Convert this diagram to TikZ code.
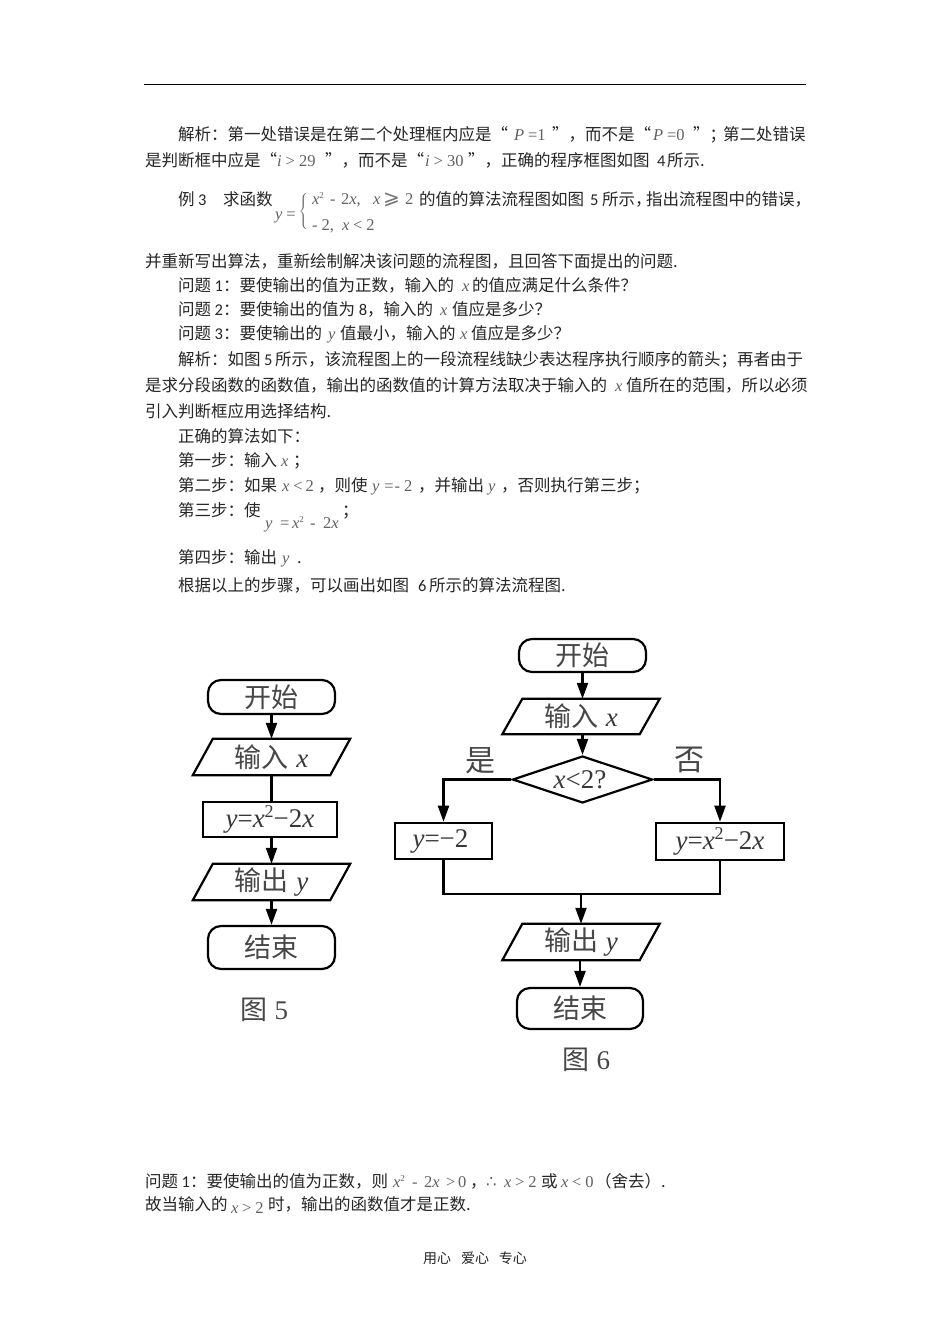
\documentclass[tikz,border=0pt]{standalone}
\usepackage{fontspec}
\usetikzlibrary{arrows.meta,calc,shapes.geometric}
\setmainfont{Noto Sans CJK SC}
\newfontfamily\mf{Liberation Serif}
\newfontfamily\cb{Carlito}
\newfontfamily\djv{DejaVu Sans}
\newcommand{\mi}[1]{{\mf\itshape\color{black!62}#1}}
\newcommand{\mr}[1]{{\mf\color{black!62}#1}}
\newcommand{\mup}[1]{\raisebox{6pt}{\fontsize{9}{9}\selectfont\mf\color{black!62}#1}}
\newcommand{\bodyf}{\fontsize{16.5}{18}\selectfont}
\newcounter{tn}
\newcommand{\tl}[3]{\stepcounter{tn}\node[txt] (t\arabic{tn}) at (#1,#2) {\bodyf #3};}
\newcommand{\term}[6]{\node[termbox,minimum width=#4 pt,minimum height=#5 pt] (#1) at (#2,#3) {\figf #6};}
\newcommand{\figf}{\fontsize{27}{29}\selectfont\color{black!72}}
\newcommand{\paral}[5]{%
 \node[inner sep=0,minimum width=117pt,minimum height=#4 pt] (#1) at (#2,#3) {\figf #5};
 \draw[box] ($(#1.north west)$) -- ($(#1.north east)+(20pt,0pt)$) -- (#1.south east) -- ($(#1.south west)+(-20pt,0pt)$) -- cycle;}
\newcommand{\fx}[1]{{\mf\itshape\fontsize{27}{29}\selectfont\color{black!78} #1}}
\newcommand{\fr}[1]{{\mf\fontsize{27}{29}\selectfont\color{black!78} #1}}
\newcommand{\fup}[1]{\raisebox{10pt}{\mf\fontsize{18}{18}\selectfont\color{black!78} #1}}
\tikzset{
 txt/.style={anchor=base west,inner sep=0,outer sep=0,text=black!85},
 box/.style={draw=black,line width=2.2pt,line join=miter},
 termbox/.style={box,rectangle,rounded corners=13pt,inner sep=0},
 rectbox/.style={box,rectangle,inner sep=0},
 conn/.style={draw=black,line width=2.2pt},
 arr/.style={conn,-{Triangle[length=16pt,width=11pt]}},
}
\begin{document}
\begin{tikzpicture}[x=1pt,y=-1pt]
\useasboundingbox[fill=white] (0,0) rectangle (950,1344);
\draw[line width=1pt] (144,84) coordinate (ra) -- (806,84) coordinate (rb);
% paragraph text
\tl{178}{140}{解析：第一处错误是在第二个处理框内应是“}
\tl{514}{140}{\mi{P}\hspace{4pt}\mr{=1}}
\tl{552}{140}{”，而不是“}
\tl{653}{140}{\mi{P}\hspace{4pt}\mr{=0}}
\tl{693}{140}{”；}
\tl{723}{140}{第二处错误}
\tl{145}{166}{是判断框中应是“}
\tl{277}{166}{\mi{i}\hspace{4pt}\mr{> 29}}
\tl{325}{166}{”，而不是“}
\tl{425}{166}{\mi{i}\hspace{4pt}\mr{> 30}}
\tl{468}{166}{”，正确的程序框图如图}
\tl{657}{166}{{\cb 4}}
\tl{667}{166}{所示.}
\tl{178}{205}{例}
\tl{198}{205}{{\cb 3}}
\tl{223}{205}{求函数}
\tl{275}{219}{\mi{y}\hspace{4pt}\mr{=}}
\node[inner sep=0] (brace) at (304,211) {\color{black!62}\fontsize{15}{15}\selectfont$\left\{\rule{0pt}{23pt}\right.$};
\tl{312}{204}{\mi{x}\mup{2}}
\tl{330}{204}{\mr{-}}
\tl{341}{204}{\mr{2}\mi{x}\mr{,}}
\tl{373}{204}{\mi{x}}
\tl{383}{204}{{\djv\fontsize{20}{20}\selectfont\color{black!55}⩾}}
\tl{405}{204}{\mr{2}}
\tl{419}{205}{的值的算法流程图如图}
\tl{590}{205}{{\cb 5}}
\tl{602}{205}{所示，}
\tl{646}{205}{指出流程图中的错误，}
\tl{312}{230}{\mr{- 2,}}
\tl{342}{230}{\mi{x} \mr{< 2}}
\tl{145}{267}{并重新写出算法，重新绘制解决该问题的流程图，且回答下面提出的问题.}
\tl{178}{291}{问题{\cb\ 1}：要使输出的值为正数，输入的}
\tl{462}{291}{\mi{x}}
\tl{472}{291}{的值应满足什么条件？}
\tl{178}{315}{问题{\cb\ 2}：要使输出的值为{\cb\ 8}，输入的}
\tl{440}{315}{\mi{x}}
\tl{452}{315}{值应是多少？}
\tl{178}{339}{问题{\cb\ 3}：要使输出的}
\tl{328}{339}{\mi{y}}
\tl{340}{339}{值最小，输入的}
\tl{460}{339}{\mi{x}}
\tl{471}{339}{值应是多少？}
\tl{178}{365}{解析：如图}
\tl{264}{365}{{\cb 5}}
\tl{275}{365}{所示，该流程图上的一段流程线缺少表达程序执行顺序的箭头；再者由于}
\tl{145}{391}{是求分段函数的函数值，输出的函数值的计算方法取决于输入的}
\tl{615}{391}{\mi{x}}
\tl{626}{391}{值所在的范围，所以必须}
\tl{145}{417}{引入判断框应用选择结构.}
\tl{178}{442}{正确的算法如下：}
\tl{178}{466}{第一步：输入}
\tl{281}{466}{\mi{x}}
\tl{293}{466}{；}
\tl{178}{491}{第二步：如果}
\tl{282}{491}{\mi{x}\hspace{4pt}\mr{<}\hspace{3pt}\mr{2}}
\tl{318}{491}{，则使}
\tl{372}{491}{\mi{y}\hspace{5pt}\mr{=}\hspace{1pt}\mr{-}\hspace{4pt}\mr{2}}
\tl{418}{491}{，并输出}
\tl{488}{491}{\mi{y}}
\tl{501}{491}{，否则执行第三步；}
\tl{178}{516}{第三步：使}
\tl{265}{528}{\mi{y}}
\tl{280}{528}{\mr{=}}
\tl{292}{528}{\mi{x}\mup{2}}
\tl{310}{528}{\mr{-}}
\tl{323}{528}{\mr{2}\mi{x}}
\tl{342}{516}{；}
\tl{178}{563}{第四步：输出}
\tl{282}{563}{\mi{y}}
\tl{297}{563}{.}
\tl{178}{591}{根据以上的步骤，可以画出如图}
\tl{418}{591}{{\cb 6}}
\tl{429}{591}{所示的算法流程图.}
\tl{145}{1187}{问题{\cb\ 1}：要使输出的值为正数，则}
\tl{393}{1187}{\mi{x}\mup{2}}
\tl{412}{1187}{\mr{-}}
\tl{424}{1187}{\mr{2}\mi{x}}
\tl{446}{1187}{\mr{>}}
\tl{458}{1187}{\mr{0}}
\tl{470}{1187}{，}
\tl{486}{1187}{{\djv\color{black!62}∴}}
\tl{504}{1187}{\mi{x} \mr{> 2}}
\tl{541}{1187}{或}
\tl{561}{1187}{\mi{x} \mr{< 0}}
\tl{595}{1187}{（舍去）.}
\tl{145}{1210}{故当输入的}
\tl{231}{1213}{\mi{x} \mr{> 2}}
\tl{268}{1210}{时，输出的函数值才是正数.}
\node[txt] (foot) at (423,1263) {\fontsize{14}{15}\selectfont 用心\hspace{10pt}爱心\hspace{10pt}专心};
% Figure 5
\term{as}{271.5}{697}{127}{34}{开始}
\paral{ai}{271.5}{757}{36}{输入\;\fx{x}}
\node[rectbox,minimum width=134pt,minimum height=35pt] (ap) at (270,819.5) {\fx{y}\fr{=}\fx{x}\fup{2}\fr{−2}\fx{x}};
\paral{ao}{271.5}{882}{36}{输出\;\fx{y}}
\term{ae}{271.5}{947.5}{127}{43}{结束}
\node[inner sep=0] (cap5) at (264,1010) {\figf 图\;{\mf 5}};
\draw[arr] (as.south) -- (ai.north);
\draw[conn] (ai.south) -- (ap.north-|ai.south);
\draw[arr] (ap.south-|ai.south) -- (ao.north);
\draw[arr] (ao.south) -- (ae.north);
% Figure 6
\term{bs}{582.5}{655.5}{127}{33}{开始}
\paral{bi}{581}{716.5}{35}{输入\;\fx{x}}
\node[draw=black,line width=2.2pt,shape=diamond,aspect=2.9,inner sep=0,minimum width=140pt,minimum height=47pt] (bd) at (582.5,779.5) {};
\node[inner sep=0] (bdt) at (580,780) {\fx{x}\fr{<2?}};
\node[rectbox,line width=2.6pt,minimum width=97pt,minimum height=36pt] (bl) at (443.5,841) {\fx{y}\fr{=−2}\hspace*{6pt}};
\node[rectbox,line width=2.6pt,minimum width=128pt,minimum height=37pt] (br) at (720,841.5) {\fx{y}\fr{=}\fx{x}\fup{2}\fr{−2}\fx{x}};
\paral{bo}{581}{942}{36}{输出\;\fx{y}}
\term{be}{580}{1008.5}{126}{41}{结束}
\coordinate (bm) at (581,894);
\draw[arr] (bs.south) -- (bi.north-|bs.south);
\draw[arr] (bi.south-|bs.south) -- (bd.north);
\draw[arr] (bd.west) -| (bl.north);
\draw[arr] (bd.east) -| (br.north);
\draw[conn] (bl.south) |- (bm);
\draw[conn] (br.south) |- (bm);
\draw[arr] (bm) -- (bo.north);
\draw[arr] (bo.south-|be.north) -- (be.north);
\node[inner sep=0] (yes) at (480,761) {\fontsize{30}{32}\selectfont\color{black!72}是};
\node[inner sep=0] (no) at (689,760) {\fontsize{30}{32}\selectfont\color{black!72}否};
\node[inner sep=0] (cap6) at (586,1060) {\figf 图\;{\mf 6}};
\end{tikzpicture}
\end{document}
